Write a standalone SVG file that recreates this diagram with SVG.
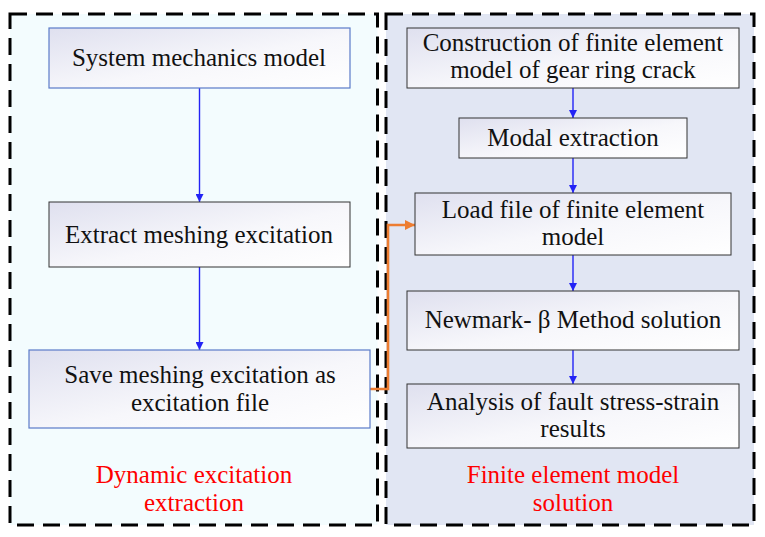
<svg xmlns="http://www.w3.org/2000/svg" width="765" height="537" viewBox="0 0 765 537">
<defs>
<linearGradient id="g" x1="0" y1="0" x2="1" y2="1">
<stop offset="0" stop-color="#dfe0ef"/>
<stop offset="0.55" stop-color="#f7f7fb"/>
<stop offset="1" stop-color="#ffffff"/>
</linearGradient>
<marker id="ab" viewBox="0 0 10 10" refX="10" refY="5" markerWidth="8" markerHeight="8" markerUnits="userSpaceOnUse" orient="auto">
<path d="M0,0 L10,5 L0,10 Z" fill="#2323f5"/>
</marker>
<marker id="ao" viewBox="0 0 10 10" refX="10" refY="5" markerWidth="10" markerHeight="10" markerUnits="userSpaceOnUse" orient="auto">
<path d="M0,0 L10,5 L0,10 Z" fill="#ed7d31"/>
</marker>
</defs>
<style>
.box{fill:url(#g);stroke:#333;stroke-width:1}
.boxb{fill:url(#g);stroke:#5b7bc8;stroke-width:1.2}
.t{font-family:"Liberation Serif","Times New Roman",serif;font-size:25px;fill:#111;text-anchor:middle}
.r{font-family:"Liberation Serif","Times New Roman",serif;font-size:25px;fill:#ff0000;text-anchor:middle}
.frame{stroke:#000;stroke-width:3;stroke-dasharray:17 9}
.c{stroke:#2323f5;stroke-width:1.4;fill:none}
</style>
<rect width="765" height="537" fill="#fff"/>
<g id="group-left">
<rect x="10" y="14" width="367.5" height="511" fill="#f3fcfe" class="frame"/>
<text class="r" x="194" y="483">Dynamic excitation</text>
<text class="r" x="194" y="511">extraction</text>
</g>
<g id="group-right">
<rect x="386" y="14" width="368" height="511" fill="#e1e6f3" class="frame"/>
<text class="r" x="573" y="483">Finite element model</text>
<text class="r" x="573" y="511">solution</text>
</g>
<g id="connectors">
<line class="c" x1="199.5" y1="88" x2="199.5" y2="202" marker-end="url(#ab)"/>
<line class="c" x1="199.5" y1="267" x2="199.5" y2="350" marker-end="url(#ab)"/>
<line class="c" x1="573" y1="88" x2="573" y2="118" marker-end="url(#ab)"/>
<line class="c" x1="573" y1="158" x2="573" y2="193" marker-end="url(#ab)"/>
<line class="c" x1="573" y1="255" x2="573" y2="291" marker-end="url(#ab)"/>
<line class="c" x1="573" y1="350" x2="573" y2="384" marker-end="url(#ab)"/>
<path d="M370,389 H388 V225 H415" fill="none" stroke="#ed7d31" stroke-width="2.6" marker-end="url(#ao)"/>
</g>
<g id="n1">
<rect class="boxb" x="49" y="28" width="301" height="60"/>
<text class="t" x="199" y="66">System mechanics model</text>
</g>
<g id="n2">
<rect class="box" x="49" y="202" width="301" height="65"/>
<text class="t" x="199" y="243">Extract meshing excitation</text>
</g>
<g id="n3">
<rect class="boxb" x="29" y="350" width="341" height="78"/>
<text class="t" x="200" y="383">Save meshing excitation as</text>
<text class="t" x="200" y="411">excitation file</text>
</g>
<g id="r1">
<rect class="box" x="407" y="28" width="332" height="60"/>
<text class="t" x="573" y="51">Construction of finite element</text>
<text class="t" x="573" y="78">model of gear ring crack</text>
</g>
<g id="r2">
<rect class="box" x="459" y="118" width="228" height="40"/>
<text class="t" x="573" y="146">Modal extraction</text>
</g>
<g id="r3">
<rect class="box" x="415" y="193" width="316" height="62"/>
<text class="t" x="573" y="218">Load file of finite element</text>
<text class="t" x="573" y="245">model</text>
</g>
<g id="r4">
<rect class="box" x="407" y="291" width="332" height="59"/>
<text class="t" x="573" y="328">Newmark- β Method solution</text>
</g>
<g id="r5">
<rect class="box" x="407" y="384" width="332" height="64"/>
<text class="t" x="573" y="410">Analysis of fault stress-strain</text>
<text class="t" x="573" y="437">results</text>
</g>
</svg>
